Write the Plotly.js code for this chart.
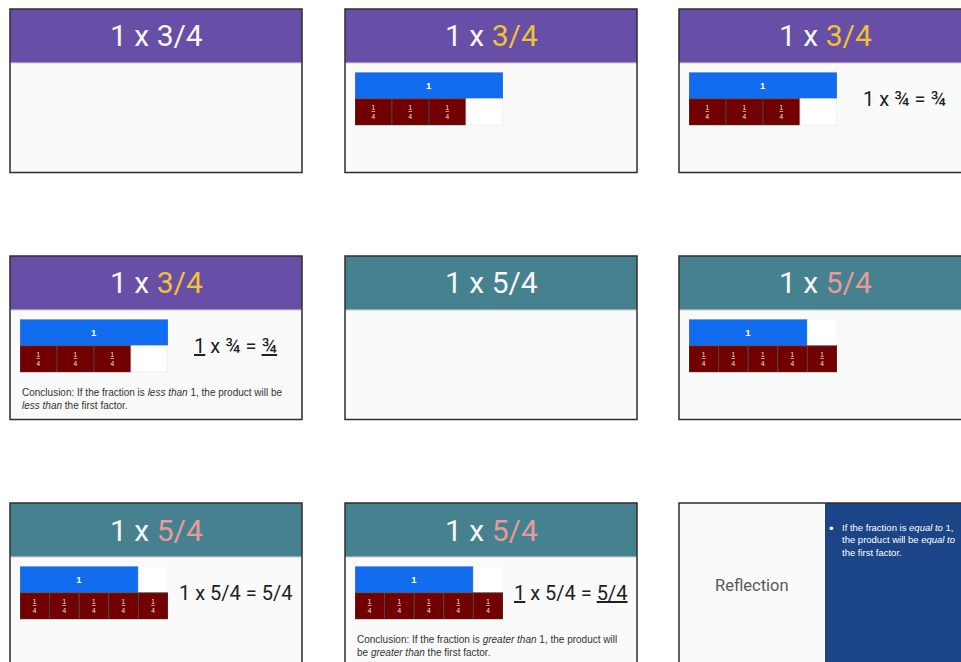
<!DOCTYPE html>
<html><head><meta charset="utf-8">
<script src="https://cdn.plot.ly/plotly-3.0.1.min.js"></script>
<style>html,body{margin:0;padding:0;background:#fff}#chart{width:961px;height:662px}</style>
</head><body><div id="chart"></div>
<script>
// ---------------- data ----------------
const titlePrefix = '1 x ';
const titleFractions = ['3/4', '3/4', '3/4', '3/4', '5/4', '5/4', '5/4', '5/4'];
const titleHighlighted = [false, true, true, true, false, true, true, true];
const diagramNumerators = [3, 3, 3, 5, 5, 5];
const denominator = 4;
const wholeValue = 1;
const wholeLabel = '1';
const pieceLabel = '<u>1</u><br>4';
const equations = ['1 x ¾ = ¾', '<u>1</u> x ¾ = <u>¾</u>', '1 x 5/4 = 5/4', '<u>1</u> x 5/4 = <u>5/4</u>'];
const conclusions = [
  'Conclusion: If the fraction is <i>less than</i> 1, the product will be<br><i>less than</i> the first factor.',
  'Conclusion: If the fraction is <i>greater than</i> 1, the product will<br>be <i>greater than</i> the first factor.'
];
const reflectionTitle = 'Reflection';
const reflectionBullet = 'If the fraction is <i>equal to</i> 1,<br>the product will be <i>equal to</i><br>the first factor.';

// ---------------- layout / style ----------------
const W = 961, H = 662;
const colX = [10, 345, 679];
const rowY = [9, 256, 503];
const slideW = 292, slideH = 163.5, headerH = 53.5;
const diagramSlides = [1, 2, 3, 5, 6, 7];
const equationSlides = [2, 3, 6, 7];
const conclusionSlides = [3, 7];
const C = {
  purple: '#674ea7', teal: '#45818e', yellow: '#f1c232', pink: '#ea9999',
  blue: '#116cf0', red: '#720000', panel: '#1c4587', slideBg: '#fafafa',
  border: '#2e2e2e', text: '#212121'
};
const px = x => x / W;
const py = y => 1 - y / H;
const origin = s => [colX[s % 3], rowY[Math.floor(s / 3)]];

const shapes = [];
const annotations = [];
const data = [];
const layout = {
  width: W, height: H, margin: {l: 0, r: 0, t: 0, b: 0},
  paper_bgcolor: '#ffffff', plot_bgcolor: 'rgba(0,0,0,0)',
  showlegend: false, barmode: 'overlay', bargap: 0,
  shapes: shapes, annotations: annotations
};

for (let s = 0; s < 9; s++) {
  const [x0, y0] = origin(s);
  const x1 = x0 + slideW, y1 = y0 + slideH;
  shapes.push({type: 'rect', xref: 'paper', yref: 'paper', x0: px(x0), x1: px(x1), y0: py(y1), y1: py(y0),
    fillcolor: C.slideBg, line: {width: 0}, layer: 'below'});
  if (s < 8) {
    const hc = s < 4 ? C.purple : C.teal;
    shapes.push({type: 'rect', xref: 'paper', yref: 'paper', x0: px(x0), x1: px(x1), y0: py(y0 + headerH), y1: py(y0),
      fillcolor: hc, line: {width: 0}, layer: 'below'});
    shapes.push({type: 'line', xref: 'paper', yref: 'paper', x0: px(x0), x1: px(x1), y0: py(y0 + headerH + 0.5), y1: py(y0 + headerH + 0.5),
      line: {color: 'rgba(0,0,0,0.18)', width: 1}, layer: 'below'});
    const hl = s < 4 ? C.yellow : C.pink;
    const frac = titleHighlighted[s] ? '<span style="color:' + hl + '">' + titleFractions[s] + '</span>' : titleFractions[s];
    annotations.push({xref: 'paper', yref: 'paper', x: px(x0 + slideW / 2), y: py(y0 + 27), xanchor: 'center', yanchor: 'middle',
      showarrow: false, text: titlePrefix + frac, font: {family: 'Roboto', size: 30, color: '#f7f7f7'}});
  } else {
    shapes.push({type: 'rect', xref: 'paper', yref: 'paper', x0: px(x0 + 146), x1: px(x1), y0: py(y1), y1: py(y0),
      fillcolor: C.panel, line: {width: 0}, layer: 'below'});
    annotations.push({xref: 'paper', yref: 'paper', x: px(x0 + 73), y: py(y0 + 82), xanchor: 'center', yanchor: 'middle',
      showarrow: false, text: reflectionTitle, font: {family: 'Roboto', size: 16.5, color: '#595959'}});
    annotations.push({xref: 'paper', yref: 'paper', x: px(x0 + 152.5), y: py(y0 + 25.5), xanchor: 'center', yanchor: 'middle',
      showarrow: false, text: '•', font: {family: 'Liberation Sans, Arial', size: 13, color: '#ffffff'}});
    annotations.push({xref: 'paper', yref: 'paper', x: px(x0 + 161), y: py(y0 + 37), xanchor: 'left', yanchor: 'middle', align: 'left',
      showarrow: false, text: reflectionBullet, font: {family: 'Liberation Sans, Arial', size: 9.5, color: '#ffffff'}});
  }
  shapes.push({type: 'rect', xref: 'paper', yref: 'paper', x0: px(x0), x1: px(x1), y0: py(y1), y1: py(y0),
    fillcolor: 'rgba(0,0,0,0)', line: {color: C.border, width: 1.5}, layer: 'above'});
}

// equations
equationSlides.forEach((s, i) => {
  const [x0, y0] = origin(s);
  annotations.push({xref: 'paper', yref: 'paper', x: px(x0 + 225), y: py(y0 + 90), xanchor: 'center', yanchor: 'middle',
    showarrow: false, text: equations[i], font: {family: 'Roboto', size: 20, color: C.text}});
});
// conclusions
conclusionSlides.forEach((s, i) => {
  const [x0, y0] = origin(s);
  annotations.push({xref: 'paper', yref: 'paper', x: px(x0 + 10), y: py(y0 + 143), xanchor: 'left', yanchor: 'middle', align: 'left',
    showarrow: false, text: conclusions[i], font: {family: 'Liberation Sans, Arial', size: 10, color: '#333333'}});
});

// fraction bar diagrams
diagramSlides.forEach((s, k) => {
  const [sx, sy] = origin(s);
  const dx0 = sx + 10, dy0 = sy + 63.3, dw = 148, dh = 53;
  const n = diagramNumerators[k], d = denominator;
  const piece = wholeValue / d;
  const total = Math.max(n, d) * piece;
  const ax = k + 1;
  const xa = ax === 1 ? 'x' : 'x' + ax, ya = ax === 1 ? 'y' : 'y' + ax;
  layout[ax === 1 ? 'xaxis' : 'xaxis' + ax] = {domain: [px(dx0), px(dx0 + dw)], range: [0, total], visible: false, fixedrange: true, anchor: ya};
  layout[ax === 1 ? 'yaxis' : 'yaxis' + ax] = {domain: [py(dy0 + dh), py(dy0)], type: 'category', categoryorder: 'array',
    categoryarray: ['parts', 'whole'], range: [-0.5, 1.5], visible: false, fixedrange: true, anchor: xa};
  const common = {type: 'bar', orientation: 'h', xaxis: xa, yaxis: ya, hoverinfo: 'skip',
    textposition: 'inside', insidetextanchor: 'middle', textangle: 0, constraintext: 'none'};
  // whole
  data.push(Object.assign({}, common, {y: ['whole'], x: [wholeValue], base: [0], text: ['<b>' + wholeLabel + '</b>'],
    marker: {color: C.blue, line: {color: '#7f8fa8', width: 0.6}},
    textfont: {family: 'Liberation Sans, Arial', size: 9.5, color: '#ffffff'}}));
  if (total > wholeValue) {
    data.push(Object.assign({}, common, {y: ['whole'], x: [total - wholeValue], base: [wholeValue], text: [''],
      marker: {color: '#ffffff', line: {color: '#eeeeee', width: 0.6}}}));
  }
  // pieces
  const idx = Array.from({length: n}, (_, i) => i);
  data.push(Object.assign({}, common, {y: idx.map(() => 'parts'), x: idx.map(() => piece), base: idx.map(i => i * piece),
    text: idx.map(() => pieceLabel), marker: {color: C.red, line: {color: '#4a4a4a', width: 0.8}},
    textfont: {family: 'Liberation Sans, Arial', size: 6.5, color: '#f2e6e6'}}));
  if (n < d) {
    const e = Array.from({length: d - n}, (_, i) => n + i);
    data.push(Object.assign({}, common, {y: e.map(() => 'parts'), x: e.map(() => piece), base: e.map(i => i * piece),
      text: e.map(() => ''), marker: {color: '#ffffff', line: {color: '#dddddd', width: 0.8}}}));
  }
});

Plotly.newPlot('chart', data, layout, {staticPlot: true, displayModeBar: false});
</script>
</body></html>
